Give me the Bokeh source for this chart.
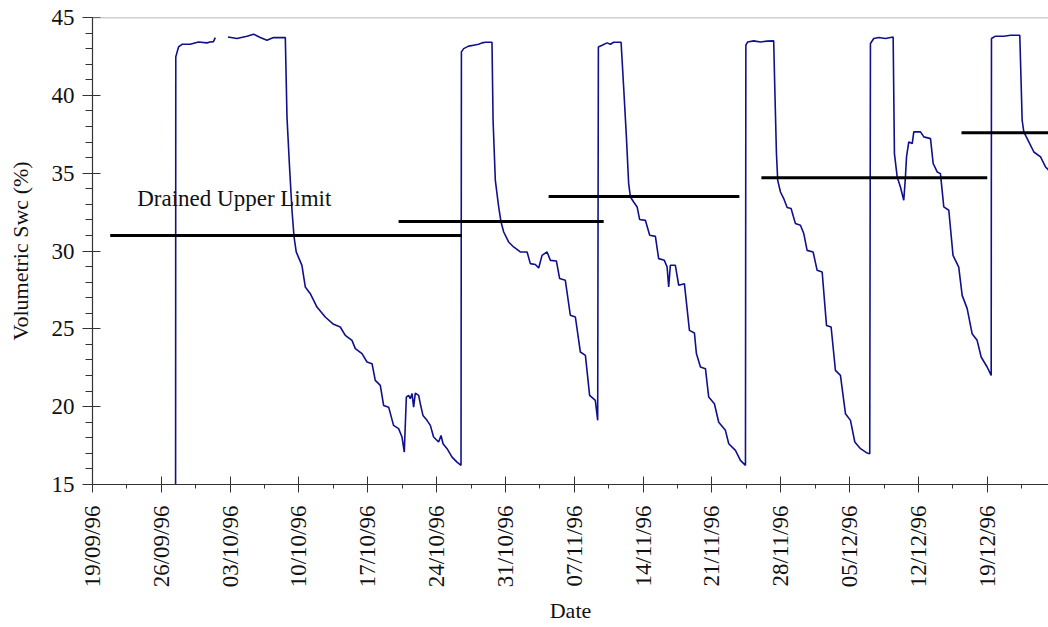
import math

from bokeh.embed import file_html
from bokeh.models import ColumnDataSource, FixedTicker, Label, Range1d, Span
from bokeh.plotting import figure
from bokeh.resources import INLINE

NAN = float("nan")

# Soil water content log, days counted from 19/09/96
swc_day = [
    8.45, 8.47, 8.75, 9.10, 9.94, 10.78, 11.64, 11.97, 12.30, 12.49,
    NAN,
    13.78, 14.69, 15.71, 16.38, 17.06, 17.74, 18.41, 19.61,
    19.78, 20.04, 20.29, 20.50, 20.72, 21.30, 21.64, 22.15, 22.83, 23.67,
    24.52, 25.20, 25.71, 26.39, 26.73, 27.41, 27.92, 28.43, 28.76, 29.27,
    29.61, 30.12, 30.62, 31.13, 31.48, 31.71, 31.92, 32.15, 32.32, 32.50,
    32.66, 32.83, 33.17, 33.34, 33.61, 34.02, 34.36, 34.69, 35.20, 35.45,
    35.65, 36.06, 36.57, 37.07, 37.48,
    37.52, 37.75, 38.25, 38.76, 39.27, 39.62, 39.95, 40.63,
    40.74, 40.97, 41.31, 41.55, 41.82, 42.32, 42.83, 43.51, 44.20, 44.53,
    45.04, 45.38, 45.72, 46.23, 46.57, 47.18, 47.51, 48.09, 48.60, 49.11,
    49.62, 50.13, 50.56, 51.14, 51.38,
    51.45, 51.83, 52.34, 52.67, 53.01, 53.76,
    54.02, 54.30, 54.53, 54.71, 55.04, 55.39, 55.65, 56.23, 56.67, 57.25,
    57.58, 58.16, 58.44, 58.60, 58.77, 59.28, 59.62, 60.20, 60.71, 61.22,
    61.42, 61.83, 62.34, 62.67, 63.25, 63.69, 64.37, 64.71, 65.39, 65.90,
    66.41,
    66.45, 66.64, 67.25, 67.93, 68.61, 69.28,
    69.39, 69.56, 69.69, 69.97, 70.30, 70.65, 71.05, 71.49, 72.00, 72.34,
    72.68, 73.29, 73.70, 74.21, 74.65, 75.12, 75.56, 76.07, 76.58, 77.09,
    77.53, 78.11, 78.79, 79.05,
    79.12, 79.46, 79.97, 80.65, 81.43,
    81.56, 81.84, 82.17, 82.51, 82.68, 82.79, 83.02, 83.37, 83.53, 84.21,
    84.55, 85.23, 85.50, 85.91, 86.24, 86.58, 87.09, 87.52, 88.10, 88.45,
    88.96, 89.46, 89.97, 90.38, 90.99, 91.40,
    91.43, 91.84, 92.69, 93.37, 94.31,
    94.55, 94.72, 95.23, 95.74, 96.42, 96.93, 97.23, 97.60,
]

swc_value = [
    14.0, 42.47, 43.11, 43.28, 43.28, 43.43, 43.37, 43.43, 43.45, 43.71,
    NAN,
    43.75, 43.65, 43.80, 43.93, 43.71, 43.54, 43.71, 43.71,
    38.60, 35.40, 32.60, 30.90, 29.94, 29.08, 27.69, 27.26, 26.40, 25.76,
    25.29, 25.12, 24.58, 24.26, 23.73, 23.41, 22.87, 22.76, 21.69, 21.37,
    20.08, 19.97, 18.80, 18.59, 18.05, 17.08, 20.62, 20.73, 20.51, 20.84,
    19.97, 20.87, 20.73, 20.19, 19.44, 19.12, 18.80, 18.05, 17.73, 18.15,
    17.62, 17.30, 16.76, 16.44, 16.23,
    42.79, 43.00, 43.16, 43.22, 43.28, 43.37, 43.41, 43.41,
    38.40, 34.54, 32.83, 31.86, 31.22, 30.58, 30.26, 29.94, 29.94, 29.19,
    29.13, 28.91, 29.72, 29.94, 29.40, 29.36, 28.23, 28.12, 25.87, 25.76,
    23.51, 23.30, 20.73, 20.40, 19.12,
    43.11, 43.22, 43.37, 43.28, 43.41, 43.41,
    40.54, 37.33, 34.33, 33.47, 33.15, 32.83, 32.02, 31.97, 31.01, 30.94,
    29.51, 29.40, 28.97, 27.69, 29.08, 29.08, 27.80, 27.90, 24.90, 24.73,
    23.41, 22.55, 22.44, 20.62, 20.19, 19.00, 18.48, 17.62, 17.19, 16.55,
    16.23,
    43.22, 43.43, 43.50, 43.43, 43.48, 43.50,
    40.54, 36.26, 34.54, 33.79, 33.37, 32.79, 32.73, 31.76, 31.65, 31.12,
    30.04, 29.94, 28.76, 28.65, 25.22, 25.12, 22.33, 22.01, 19.55, 19.12,
    17.73, 17.30, 17.02, 16.98,
    43.33, 43.65, 43.71, 43.65, 43.75,
    36.26, 34.76, 34.11, 33.26, 34.76, 36.04, 37.01, 36.90, 37.65, 37.65,
    37.33, 37.22, 35.62, 35.08, 34.97, 32.83, 32.62, 29.72, 28.97, 27.15,
    26.30, 24.69, 24.26, 23.19, 22.55, 22.01,
    43.65, 43.80, 43.80, 43.86, 43.86,
    38.40, 37.65, 37.01, 36.36, 36.04, 35.40, 35.20, 35.10,
]

# Drained upper limit for each wetting cycle
dul_start = [1.8, 31.13, 46.39, 68.03, 88.38]
dul_end = [37.58, 51.99, 65.79, 91.0, 98.5]
dul_value = [31.0, 31.9, 33.5, 34.7, 37.6]

tick_days = [0, 7, 14, 21, 28, 35, 42, 49, 56, 63, 70, 77, 84, 91]
tick_labels = ["19/09/96", "26/09/96", "03/10/96", "10/10/96", "17/10/96",
               "24/10/96", "31/10/96", "07/11/96", "14/11/96", "21/11/96",
               "28/11/96", "05/12/96", "12/12/96", "19/12/96"]
minor_days = [d + 3.5 for d in tick_days]
y_ticks = [15, 20, 25, 30, 35, 40, 45]
y_minor = list(range(15, 46))

FONT = "Liberation Serif"

p = figure(
    width=1048, height=627,
    x_range=Range1d(0, 97.23), y_range=Range1d(15, 45),
    output_backend="svg", toolbar_location=None,
    min_border_left=92, min_border_right=0,
    min_border_top=17, min_border_bottom=143,
)
p.outline_line_color = None
p.grid.visible = False
p.background_fill_color = "white"
p.border_fill_color = "white"

p.add_layout(Span(location=45, dimension="width", line_color="#a0a0a0", line_width=1.5))

src = ColumnDataSource(dict(day=swc_day, swc=swc_value))
p.line("day", "swc", source=src, line_color="#10108c", line_width=1.6)

p.segment(x0=dul_start, y0=dul_value, x1=dul_end, y1=dul_value,
          line_color="black", line_width=3)

p.add_layout(Label(x=4.55, y=33.37, text="Drained Upper Limit",
                   text_font=FONT, text_font_size="23px", text_color="#111111",
                   text_baseline="alphabetic", text_align="left"))

xa = p.xaxis[0]
xa.ticker = FixedTicker(ticks=tick_days, minor_ticks=minor_days)
xa.major_label_overrides = {d: lab for d, lab in zip(tick_days, tick_labels)}
xa.major_label_orientation = math.pi / 2
xa.axis_label = "Date"

ya = p.yaxis[0]
ya.ticker = FixedTicker(ticks=y_ticks, minor_ticks=y_minor)
ya.axis_label = "Volumetric Swc (%)"

for ax in (xa, ya):
    ax.axis_line_color = "#333333"
    ax.axis_line_width = 1.2
    ax.major_tick_line_color = "#333333"
    ax.minor_tick_line_color = "#333333"
    ax.major_label_text_font = FONT
    ax.major_label_text_font_size = "23px"
    ax.major_label_text_color = "#111111"
    ax.axis_label_text_font = FONT
    ax.axis_label_text_font_size = "22px"
    ax.axis_label_text_font_style = "normal"
    ax.axis_label_text_color = "#111111"
    ax.major_tick_in = 8
    ax.minor_tick_in = 0

xa.major_tick_out = 8
xa.minor_tick_out = 4
xa.major_label_standoff = 13
xa.axis_label_standoff = 8

ya.major_tick_out = 10
ya.minor_tick_out = 7
ya.major_label_standoff = 8
ya.axis_label_standoff = 16

open("out.html", "w").write(file_html(p, INLINE))
